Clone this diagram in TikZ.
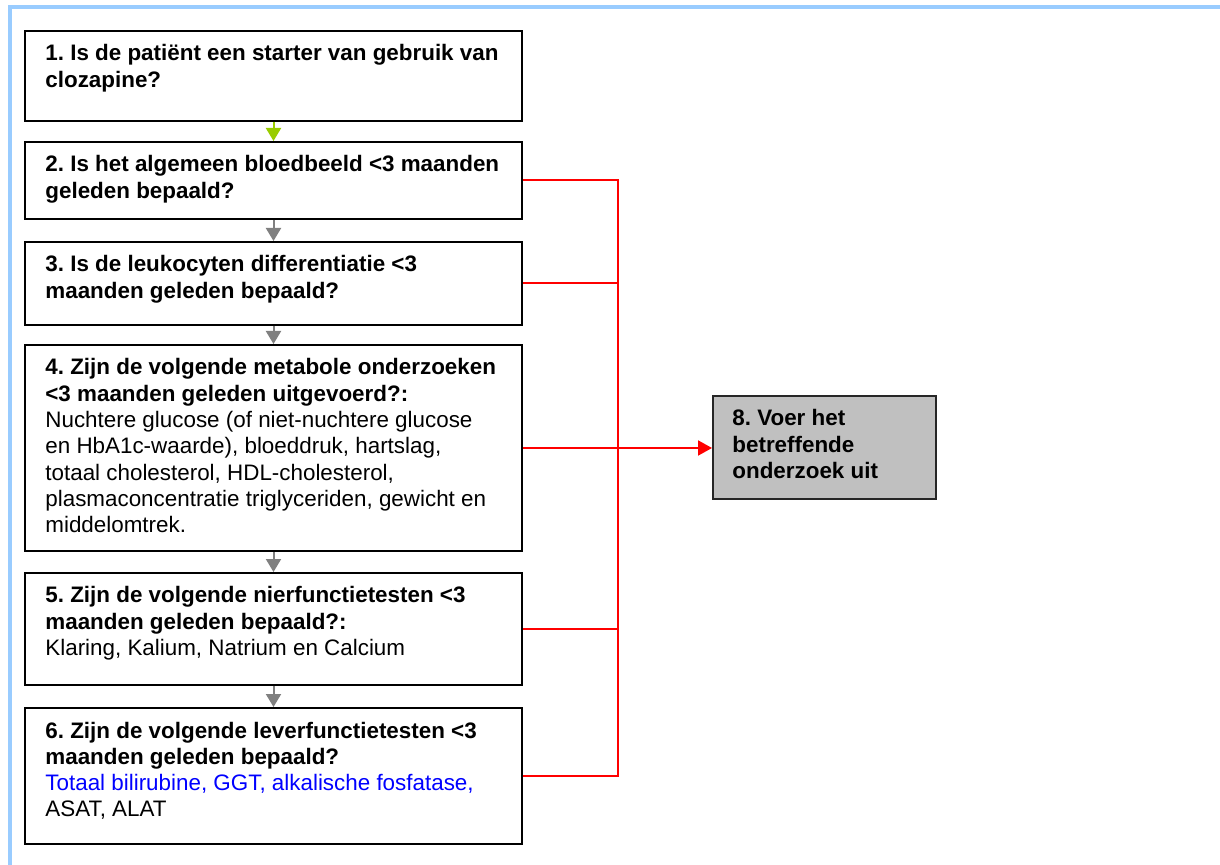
\documentclass[tikz,border=0pt]{standalone}
\usepackage{fontspec}
\setmainfont{Liberation Sans}
\usetikzlibrary{arrows.meta}
\definecolor{framec}{HTML}{99CCFF}
\definecolor{startc}{HTML}{99CC00}
\definecolor{flowc}{HTML}{808080}
\definecolor{nogoc}{HTML}{FF0000}
\definecolor{actc}{HTML}{C0C0C0}
\definecolor{listc}{HTML}{0000FF}
\frenchspacing
\tikzset{
  qbox/.style={draw=black, line width=1pt, minimum width=248.5pt, inner sep=0pt},
  actbox/.style={draw=black!85, fill=actc, line width=1pt, minimum width=111.5pt,
    minimum height=51.5pt, inner sep=0pt},
  qtext/.style={anchor=base west, inner sep=0pt, xshift=10.5pt, yshift=-15.5pt,
    font=\fontsize{11.2pt}{13.15pt}\selectfont},
  nextarrow/.style={draw=flowc, line width=1pt, -{Triangle[length=6.5pt,width=7.5pt]}},
  firstarrow/.style={draw=startc, line width=1pt, -{Triangle[length=6.5pt,width=7.5pt]}},
  noline/.style={draw=nogoc, line width=1pt},
  noarrow/.style={draw=nogoc, line width=1pt, -{Triangle[length=7pt,width=7.5pt]}},
}
\newcommand{\qpar}[1]{\parbox[t]{245pt}{\raggedright #1}}
\begin{document}
\begin{tikzpicture}[x=0.5pt,y=-0.5pt]
  \useasboundingbox (0,0) rectangle (1220,865);

  % outer frame (top and left edges)
  \draw[framec, line width=2pt] (9.5,865) -- (9.5,7) -- (1220,7);

  % question boxes
  \node[qbox, minimum height=45pt]   (b1) at (273.5,76)  {};
  \node[qbox, minimum height=38.5pt] (b2) at (273.5,180.5) {};
  \node[qbox, minimum height=41.5pt] (b3) at (273.5,283.5) {};
  \node[qbox, minimum height=103pt]  (b4) at (273.5,448) {};
  \node[qbox, minimum height=56pt]   (b5) at (273.5,629) {};
  \node[qbox, minimum height=68pt]   (b6) at (273.5,776) {};
  \node[actbox] (b8) at (824.5,447.5) {};

  % box texts
  \node[qtext] (t1) at (b1.north west) {\qpar{\bfseries 1. Is de patiënt een starter van gebruik van\\clozapine?}};
  \node[qtext] (t2) at (b2.north west) {\qpar{\bfseries 2. Is het algemeen bloedbeeld <3 maanden\\geleden bepaald?}};
  \node[qtext] (t3) at (b3.north west) {\qpar{\bfseries 3. Is de leukocyten differentiatie <3\\maanden geleden bepaald?}};
  \node[qtext] (t4) at (b4.north west) {\qpar{\textbf{4. Zijn de volgende metabole onderzoeken}\\\textbf{<3 maanden geleden uitgevoerd?:}\\Nuchtere glucose (of niet-nuchtere glucose\\en HbA1c-waarde), bloeddruk, hartslag,\\totaal cholesterol, HDL-cholesterol,\\plasmaconcentratie triglyceriden, gewicht en\\middelomtrek.}};
  \node[qtext] (t5) at (b5.north west) {\qpar{\textbf{5. Zijn de volgende nierfunctietesten <3}\\\textbf{maanden geleden bepaald?:}\\Klaring, Kalium, Natrium en Calcium}};
  \node[qtext] (t6) at (b6.north west) {\qpar{\textbf{6. Zijn de volgende leverfunctietesten <3}\\\textbf{maanden geleden bepaald?}\\\textcolor{listc}{Totaal bilirubine, GGT, alkalische fosfatase,}\\ASAT, ALAT}};
  \node[qtext, xshift=-0.5pt] (t8) at (b8.north west) {\parbox[t]{100pt}{\raggedright\bfseries 8. Voer het\\betreffende\\onderzoek uit}};

  % flow down the questions
  \draw[firstarrow] (b1.south) -- (b2.north);
  \draw[nextarrow] (b2.south) -- (b3.north);
  \draw[nextarrow] (b3.south) -- (b4.north);
  \draw[nextarrow] (b4.south) -- (b5.north);
  \draw[nextarrow] (b5.south) -- (b6.north);

  % "no" branches collected on a vertical bus
  \coordinate (bus) at (618,0);
  \draw[noline] (b2.east) -- (b2.east -| bus) -- (b6.east -| bus) -- (b6.east);
  \draw[noline] (b3.east) -- (b3.east -| bus);
  \draw[noline] (b5.east) -- (b5.east -| bus);
  \draw[noarrow] (b4.east) -- (b4.east -| b8.west);
\end{tikzpicture}
\end{document}
